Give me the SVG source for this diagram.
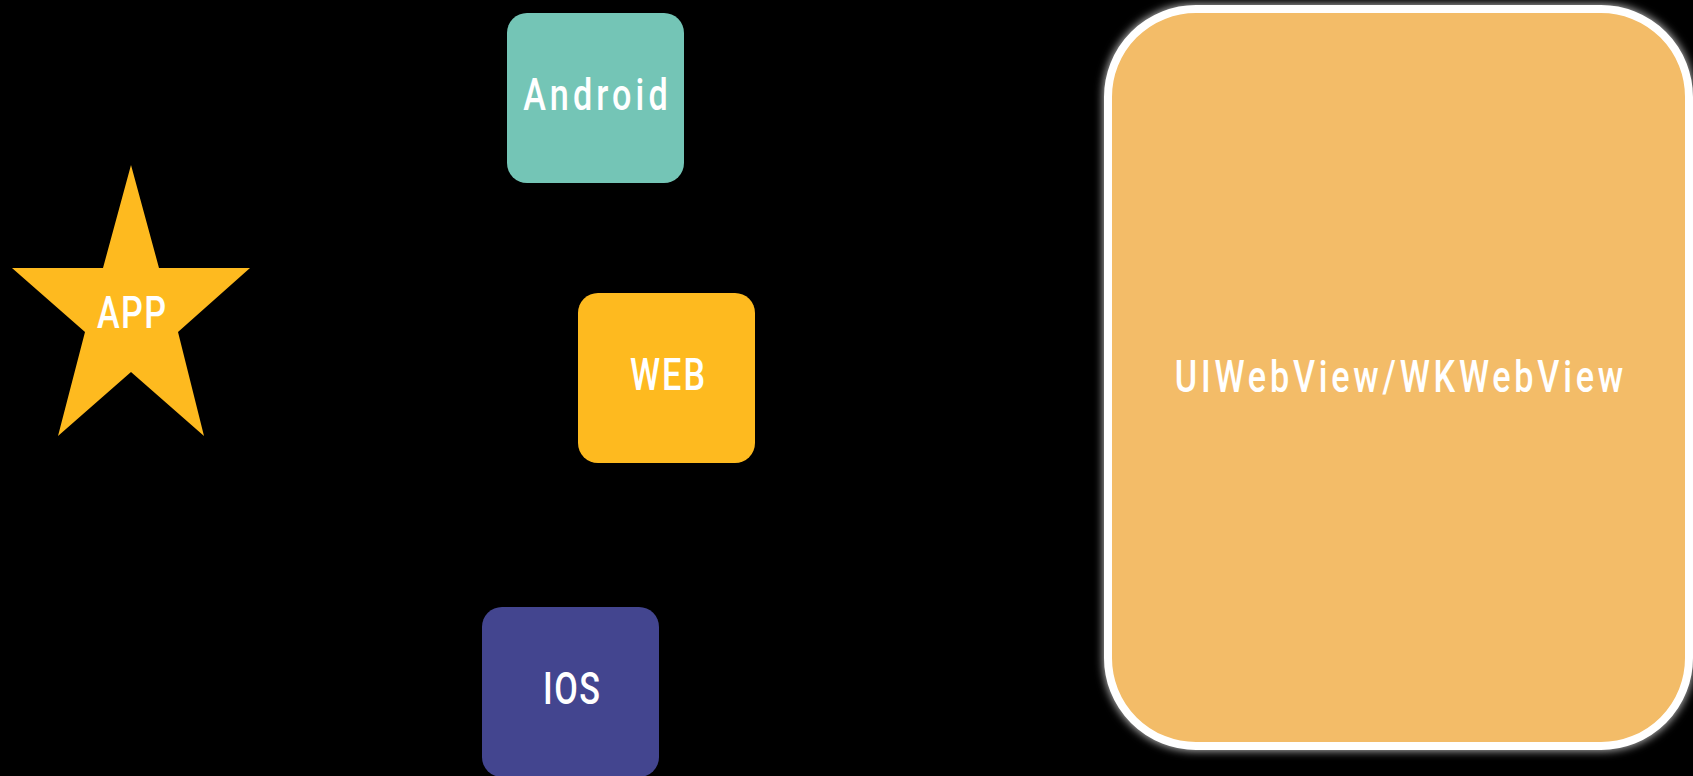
<svg xmlns="http://www.w3.org/2000/svg" width="1693" height="776" viewBox="0 0 1693 776">
  <defs>
    <style>
      .lbl { font-family: Roboto, "Liberation Sans", sans-serif; font-weight: 500; font-size: 45px; fill: #FFFFFF; text-anchor: middle; }
    </style>
    <filter id="glow" x="-10%" y="-10%" width="120%" height="120%">
      <feMorphology in="SourceAlpha" operator="dilate" radius="1" result="d"/>
      <feGaussianBlur in="d" stdDeviation="4" result="b"/>
      <feFlood flood-color="#FFFFFF" flood-opacity="0.7"/>
      <feComposite in2="b" operator="in" result="g"/>
      <feMerge>
        <feMergeNode in="g"/>
        <feMergeNode in="SourceGraphic"/>
      </feMerge>
    </filter>
  </defs>
  <rect x="0" y="0" width="1693" height="776" fill="#000000"/>
  <g id="connectors"></g>
  <g id="node-app">
    <polygon points="131,165 159,268 250,268 178,332 204,436 131,372 58,436 85,332 12,268 103,268" fill="#FEBA1F"/>
    <text class="lbl" transform="translate(131.5,328) scale(0.76,1)" x="0" y="0" textLength="91" lengthAdjust="spacing">APP</text>
  </g>
  <g id="node-android">
    <rect x="507" y="13" width="177" height="170" rx="20" ry="20" fill="#74C5B6"/>
    <text class="lbl" transform="translate(595.5,110) scale(0.76,1)" x="0" y="0" textLength="190" lengthAdjust="spacing">Android</text>
  </g>
  <g id="node-web">
    <rect x="578" y="293" width="177" height="170" rx="20" ry="20" fill="#FEBA1F"/>
    <text class="lbl" transform="translate(667.5,390) scale(0.76,1)" x="0" y="0" textLength="99" lengthAdjust="spacing">WEB</text>
  </g>
  <g id="node-ios">
    <rect x="482" y="607" width="177" height="170" rx="20" ry="20" fill="#43458F"/>
    <text class="lbl" transform="translate(571.5,704) scale(0.76,1)" x="0" y="0" textLength="75" lengthAdjust="spacing">IOS</text>
  </g>
  <g id="node-webview">
    <rect x="1108" y="9" width="581" height="737" rx="88" ry="88" fill="#F3BC67" stroke="#FFFFFF" stroke-width="8" filter="url(#glow)"/>
    <text class="lbl" transform="translate(1399,392) scale(0.76,1)" x="0" y="0" textLength="590" lengthAdjust="spacing">UIWebView/WKWebView</text>
  </g>
</svg>
